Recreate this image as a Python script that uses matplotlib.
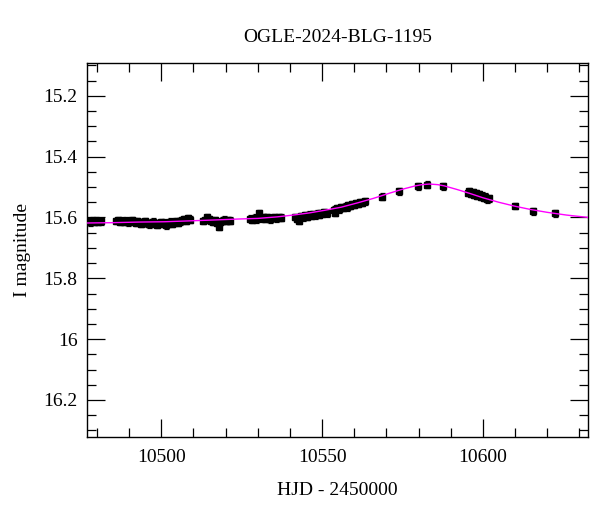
import matplotlib
matplotlib.use("Agg")
import matplotlib.pyplot as plt
from matplotlib.ticker import MultipleLocator

# ---------------- data ----------------
title = "OGLE-2024-BLG-1195"
xlabel = "HJD - 2450000"
ylabel = "I magnitude"

hjd = [
    # cluster A
    10477.3, 10477.9, 10478.5, 10479.1, 10479.7, 10480.3, 10480.9, 10481.4,
    # cluster B
    10486.0, 10486.6, 10487.2, 10487.8, 10488.4, 10489.0, 10489.6, 10490.2,
    10490.8, 10491.4, 10492.0, 10492.6, 10493.2, 10493.8, 10494.4, 10495.0,
    10495.6, 10496.2, 10496.8, 10497.4, 10498.0, 10498.6, 10499.2, 10499.8,
    10500.4, 10501.0, 10501.6, 10502.2, 10502.8, 10503.4, 10504.0, 10504.6,
    10505.2, 10505.8, 10506.4, 10507.0, 10507.6, 10508.2, 10508.8,
    # cluster C
    10513.0, 10513.6, 10514.2, 10514.8, 10515.4, 10516.0, 10516.6, 10517.2,
    10517.8, 10518.4, 10519.0, 10519.6, 10520.2, 10520.8, 10521.3,
    # cluster D
    10527.6, 10528.3, 10529.0, 10529.6, 10530.3, 10530.9, 10531.6, 10532.3,
    10533.0, 10533.7, 10534.4, 10535.1, 10535.8, 10536.5, 10537.3,
    # cluster E
    10541.7, 10542.3, 10542.9, 10543.5, 10544.1, 10544.7, 10545.3, 10545.9,
    10546.5, 10547.1, 10547.7, 10548.3, 10548.9, 10549.5, 10550.1, 10550.7,
    10551.4,
    # cluster F
    10553.6, 10554.0, 10554.6, 10555.2, 10555.8, 10556.4, 10557.0, 10557.6,
    10558.2, 10558.8, 10559.4, 10560.0, 10560.6, 10561.2, 10561.8, 10562.5,
    10563.3,
    # isolated near peak
    10568.7, 10573.8, 10579.7, 10582.6, 10587.6,
    # cluster G
    10595.3, 10595.8, 10596.3, 10596.8, 10597.3, 10597.8, 10598.3, 10598.8,
    10599.3, 10599.8, 10600.3, 10600.8, 10601.3, 10601.9,
    # tail
    10610.0, 10615.5, 10622.5,
]

imag = [
    15.613, 15.616, 15.611, 15.614, 15.610, 15.615, 15.612, 15.613,
    15.612, 15.609, 15.615, 15.611, 15.614, 15.610, 15.616, 15.612,
    15.609, 15.614, 15.617, 15.612, 15.615, 15.620, 15.616, 15.613,
    15.619, 15.622, 15.617, 15.614, 15.620, 15.624, 15.618, 15.615,
    15.621, 15.617, 15.626, 15.619, 15.614, 15.620, 15.616, 15.612,
    15.618, 15.613, 15.609, 15.606, 15.611, 15.603, 15.607,
    15.612, 15.608, 15.598, 15.606, 15.611, 15.614, 15.609, 15.618,
    15.631, 15.615, 15.611, 15.607, 15.612, 15.609, 15.611,
    15.604, 15.607, 15.601, 15.606, 15.585, 15.603, 15.599, 15.604,
    15.600, 15.606, 15.602, 15.598, 15.603, 15.599, 15.601,
    15.598, 15.605, 15.610, 15.596, 15.600, 15.593, 15.597, 15.591,
    15.595, 15.589, 15.593, 15.587, 15.591, 15.585, 15.589, 15.583,
    15.586,
    15.574, 15.584, 15.570, 15.573, 15.567, 15.569, 15.564, 15.566,
    15.560, 15.562, 15.557, 15.559, 15.553, 15.555, 15.550, 15.551,
    15.547,
    15.531, 15.514, 15.498, 15.492, 15.498,
    15.518, 15.514, 15.522, 15.517, 15.525, 15.520, 15.529, 15.524,
    15.532, 15.528, 15.536, 15.532, 15.540, 15.537,
    15.562, 15.580, 15.586,
]

imag_err = 0.011  # typical photometric error

model_hjd = [10477, 10485, 10493, 10501, 10509, 10517, 10524, 10530, 10536,
             10541, 10546, 10551, 10556, 10561, 10566, 10571, 10575, 10579,
             10581, 10583.4, 10586, 10588, 10592, 10596, 10600, 10605, 10610,
             10615, 10620, 10626, 10633]
model_mag = [15.618, 15.617, 15.615, 15.614, 15.611, 15.608, 15.605, 15.603,
             15.598, 15.592, 15.585, 15.576, 15.566, 15.552, 15.537, 15.520,
             15.507, 15.496, 15.492, 15.490, 15.492, 15.496, 15.508, 15.521,
             15.535, 15.550, 15.563, 15.574, 15.583, 15.592, 15.600]

xlim = (10477.0, 10632.6)
ylim = (16.321, 15.091)

# ---------------- plot ----------------
plt.rcParams["font.family"] = ["Liberation Serif", "DejaVu Serif"]
plt.rcParams["font.size"] = 14

fig = plt.figure(figsize=(6.0, 5.12), dpi=100)
ax = fig.add_axes([0.1455, 0.147, 0.834, 0.7305])

ax.errorbar(hjd, imag, yerr=imag_err, fmt="s", color="black",
            markersize=4.3, elinewidth=1.1, capsize=1.8, capthick=0.9,
            ecolor="black", zorder=2)
ax.plot(model_hjd, model_mag, color="#ff00ff", linewidth=1.0, zorder=3)

ax.set_xlim(*xlim)
ax.set_ylim(*ylim)

ax.xaxis.set_major_locator(MultipleLocator(50))
ax.xaxis.set_minor_locator(MultipleLocator(10))
ax.yaxis.set_major_locator(MultipleLocator(0.2))
ax.yaxis.set_minor_locator(MultipleLocator(0.05))
ax.yaxis.set_major_formatter(plt.FuncFormatter(
    lambda v, p: f"{v:.0f}" if abs(v - round(v)) < 1e-6 else f"{v:.1f}"))

ax.tick_params(which="both", direction="in", top=True, right=True,
               width=0.9, colors="black", labelsize=14)
ax.tick_params(which="major", length=13, pad=7)
ax.tick_params(which="minor", length=6.5)
ax.tick_params(axis="x", which="major", pad=9)

for s in ax.spines.values():
    s.set_linewidth(1.0)

ax.set_title(title, fontsize=14, pad=15)
ax.set_xlabel(xlabel, fontsize=14, labelpad=11)
ax.set_ylabel(ylabel, fontsize=14, labelpad=9)

fig.savefig("out.png", dpi=100)
